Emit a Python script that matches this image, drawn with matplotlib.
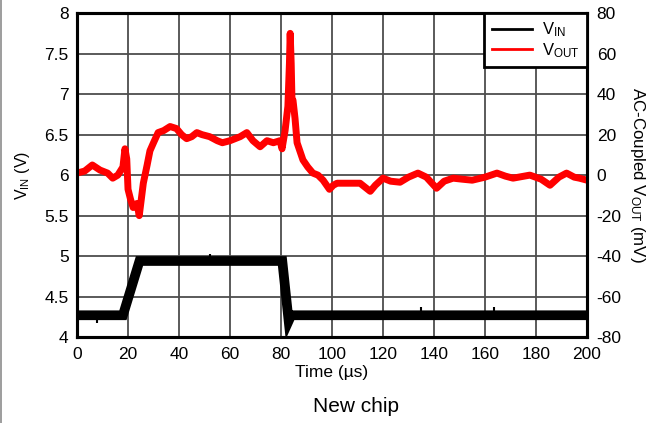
import matplotlib
matplotlib.use('Agg')
import matplotlib.pyplot as plt
from matplotlib.lines import Line2D

plt.rcParams['font.family'] = ['Liberation Sans', 'DejaVu Sans']
plt.rcParams['mathtext.fontset'] = 'custom'
plt.rcParams['mathtext.rm'] = 'Liberation Sans'
plt.rcParams['mathtext.it'] = 'Liberation Sans'
plt.rcParams['axes.unicode_minus'] = False

# V_IN trace (V)
vin_t = [0, 8, 18, 24.5, 52, 80.5, 83, 84, 135, 163.5, 200]
vin_v = [4.27, 4.27, 4.27, 4.94, 4.94, 4.94, 4.2, 4.27, 4.27, 4.27, 4.27]
# narrow glitches on V_IN
spike_t = [8, 52, 83.5, 135, 163.5]
spike_lo = [4.18, 4.94, 4.16, 4.27, 4.27]
spike_hi = [4.27, 5.03, 4.27, 4.37, 4.37]

# AC-coupled V_OUT trace (mV)
vout_t = [0, 3, 6, 9, 12, 14, 16, 18, 18.8, 19.5, 20, 21, 22, 23.5, 24.4, 25,
          26, 27.5, 28.6, 30, 31.8, 34, 36.5, 39, 41, 43, 45, 47, 49, 52, 55,
          57, 60, 64, 66.6, 69, 71.8, 74.5, 77, 79.6, 80.4, 81.6, 82.7, 83.3,
          83.6, 84, 84.3, 84.7, 85.5, 86.3, 88.6, 90.5, 92.5, 94.5, 96.5, 99,
          100.5, 102, 107, 111, 115, 117, 120, 123, 126.7, 130, 133.7, 137,
          141, 144, 147.5, 151, 155, 160, 164.7, 168, 171, 177.6, 182, 185.5,
          189, 192, 195, 197, 200]
vout_mv = [1, 2, 5, 2.5, 1, -1.5, 0, 4, 13, 8, -7, -12, -16, -14, -20, -14,
           -4, 5, 12, 16, 21, 22, 24, 23, 20, 18, 19, 21, 20, 19, 17,
           16, 17, 19, 21, 17, 14, 17, 16, 17, 13, 22, 34, 55,
           70, 55, 37, 37, 28, 16, 7.5, 4, 1, 0, -2.5, -7,
           -5, -4, -4, -4, -8, -5, -1.5, -3, -3.5, -1, 1, -1,
           -6.5, -3, -1.5, -2, -2.5, -1, 1, -0.5, -1.5, 0, -2, -5,
           -1, 1, -1, -1.5, -2.5]

fig = plt.figure(figsize=(6.64, 4.23), dpi=100)
ax = fig.add_axes([0.116, 0.203, 0.768, 0.766])
ax2 = ax.twinx()

ax.plot(vin_t, vin_v, color='black', lw=7, solid_joinstyle='miter')
ax.vlines(spike_t, spike_lo, spike_hi, color='black', lw=1.5)
ax2.plot(vout_t, vout_mv, color='#ff0000', lw=5)

ax.set_xlim(0, 200)
ax.set_ylim(4, 8)
ax2.set_ylim(-80, 80)
ax.set_xticks(range(0, 201, 20))
ax.set_yticks([4, 4.5, 5, 5.5, 6, 6.5, 7, 7.5, 8])
ax.set_yticklabels(['4', '4.5', '5', '5.5', '6', '6.5', '7', '7.5', '8'])
ax2.set_yticks(range(-80, 81, 20))

ax.grid(True, color='0.3', lw=1.3)
ax.tick_params(axis='both', length=0, labelsize=12.5)
ax.tick_params(axis='x', pad=7)
ax.tick_params(axis='y', pad=6)
ax2.tick_params(axis='y', length=0, labelsize=12.5, pad=7)
for a in (ax, ax2):
    for s in a.spines.values():
        s.set_linewidth(2.2)
        s.set_color('black')

ax.set_xlabel('Time (µs)', fontsize=12.5, labelpad=2)
ax.set_ylabel(r'V$_{\mathrm{IN}}$ (V)', fontsize=11.5, labelpad=9)
ax2.set_ylabel(r'AC-Coupled V$_{\mathrm{OUT}}$ (mV)', fontsize=12.2,
               rotation=270, labelpad=18)

handles = [Line2D([], [], color='black', lw=2),
           Line2D([], [], color='#ff0000', lw=2)]
leg = ax2.legend(handles, [r'V$_{\mathrm{IN}}$', r'V$_{\mathrm{OUT}}$'],
                 loc='upper right', borderaxespad=0, fancybox=False,
                 framealpha=1, edgecolor='black', fontsize=12,
                 handlelength=2.4, handletextpad=0.6, labelspacing=0.1,
                 borderpad=0.45)
leg.get_frame().set_linewidth(2)

fig.text(0.536, 0.038, 'New chip', ha='center', va='center', fontsize=15)
fig.add_artist(Line2D([0.002, 0.002], [0, 1], transform=fig.transFigure,
                      color='0.55', lw=1.2))

fig.savefig('out.png', dpi=100)
